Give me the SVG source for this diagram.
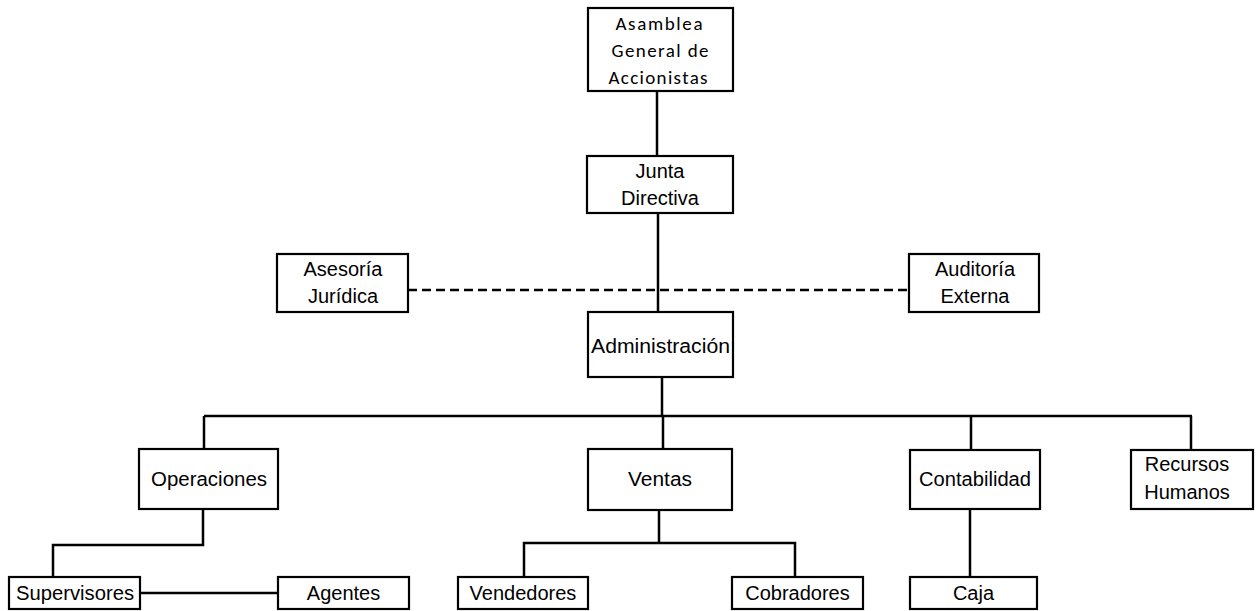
<svg xmlns="http://www.w3.org/2000/svg" width="1258" height="611" viewBox="0 0 1258 611">
<style>
.box{fill:#fff;stroke:#000;stroke-width:2.2}
.t{font-family:"Liberation Sans",Arial,sans-serif;font-size:20px;fill:#000;text-anchor:middle}
.c{font-family:Carlito,"Open Sans","Liberation Sans",sans-serif;font-size:19px;fill:#000;text-anchor:middle}
.ln{fill:none;stroke:#000;stroke-width:2.5}
.dash{fill:none;stroke:#000;stroke-width:2.5;stroke-dasharray:9 5}
</style>
<rect width="1258" height="611" fill="#fff"/>
<g id="connectors">
<path class="ln" d="M657 91V156"/>
<path class="ln" d="M658 213V312"/>
<path class="dash" d="M408 290H909"/>
<path class="ln" d="M662 377V416"/>
<path class="ln" d="M204 416H1192"/>
<path class="ln" d="M204 416V449"/>
<path class="ln" d="M663 416V449"/>
<path class="ln" d="M971 416V450"/>
<path class="ln" d="M1191 416V450"/>
<path class="ln" d="M203 509V545H53V577"/>
<path class="ln" d="M140 593H278"/>
<path class="ln" d="M659 510V543M524 577V543H795V577"/>
<path class="ln" d="M970 509V577"/>
</g>
<g id="asamblea">
<rect class="box" x="588" y="8" width="145" height="83"/>
<text class="c" x="659" y="30" textLength="87" lengthAdjust="spacing">Asamblea</text>
<text class="c" x="660" y="57" textLength="97" lengthAdjust="spacing">General de</text>
<text class="c" x="658" y="84" textLength="99" lengthAdjust="spacing">Accionistas</text>
</g>
<g id="junta">
<rect class="box" x="587" y="156" width="146" height="57"/>
<text class="t" x="660" y="178">Junta</text>
<text class="t" x="660" y="205">Directiva</text>
</g>
<g id="asesoria">
<rect class="box" x="277" y="254" width="131" height="58"/>
<text class="t" x="343" y="276">Asesoría</text>
<text class="t" x="343" y="303">Jurídica</text>
</g>
<g id="auditoria">
<rect class="box" x="909" y="254" width="130" height="58"/>
<text class="t" x="975" y="276">Auditoría</text>
<text class="t" x="975" y="303">Externa</text>
</g>
<g id="administracion">
<rect class="box" x="588" y="312" width="145" height="65"/>
<text class="t" x="660.5" y="353" textLength="139" lengthAdjust="spacingAndGlyphs">Administración</text>
</g>
<g id="operaciones">
<rect class="box" x="139" y="449" width="139" height="60"/>
<text class="t" x="209" y="486" textLength="116" lengthAdjust="spacingAndGlyphs">Operaciones</text>
</g>
<g id="ventas">
<rect class="box" x="588" y="449" width="144" height="61"/>
<text class="t" x="660" y="486" textLength="64" lengthAdjust="spacingAndGlyphs">Ventas</text>
</g>
<g id="contabilidad">
<rect class="box" x="910" y="450" width="130" height="59"/>
<text class="t" x="975" y="486" textLength="112" lengthAdjust="spacingAndGlyphs">Contabilidad</text>
</g>
<g id="rrhh">
<rect class="box" x="1131" y="450" width="122" height="59"/>
<text class="t" x="1187" y="471">Recursos</text>
<text class="t" x="1187" y="499">Humanos</text>
</g>
<g id="supervisores">
<rect class="box" x="9" y="577" width="131" height="32"/>
<text class="t" x="75" y="600" textLength="118" lengthAdjust="spacingAndGlyphs">Supervisores</text>
</g>
<g id="agentes">
<rect class="box" x="278" y="577" width="131" height="32"/>
<text class="t" x="343.5" y="600">Agentes</text>
</g>
<g id="vendedores">
<rect class="box" x="458" y="577" width="130" height="32"/>
<text class="t" x="523" y="600">Vendedores</text>
</g>
<g id="cobradores">
<rect class="box" x="732" y="577" width="131" height="32"/>
<text class="t" x="797.5" y="600">Cobradores</text>
</g>
<g id="caja">
<rect class="box" x="910" y="577" width="127" height="32"/>
<text class="t" x="973.5" y="600">Caja</text>
</g>
</svg>
